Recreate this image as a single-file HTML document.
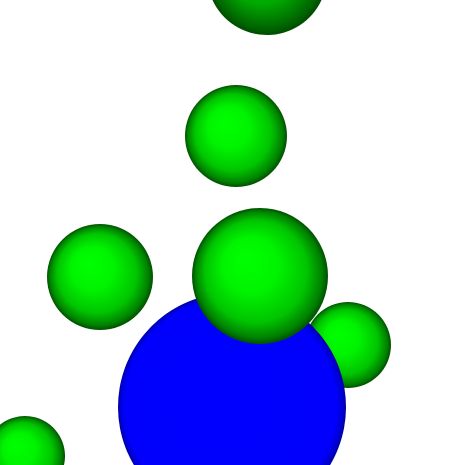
<!DOCTYPE html>
<html>
<head>
<meta charset="utf-8">
<style>
html,body{margin:0;padding:0;background:#fff;width:465px;height:465px;overflow:hidden;}
svg{display:block;}
</style>
</head>
<body>
<svg width="465" height="465" viewBox="0 0 465 465" overflow="hidden">
  <defs>
    <radialGradient id="g" cx="0.5" cy="0.5" r="0.5" fx="0.38" fy="0.36">
      <stop offset="0" stop-color="#00ff00"/>
      <stop offset="0.4" stop-color="#00f400"/>
      <stop offset="0.75" stop-color="#00c400"/>
      <stop offset="0.93" stop-color="#008000"/>
      <stop offset="1" stop-color="#005000"/>
    </radialGradient>
    <radialGradient id="gbl" gradientUnits="userSpaceOnUse" cx="25" cy="456" r="40" fx="15.4" fy="444.8">
      <stop offset="0" stop-color="#00ff00"/>
      <stop offset="0.4" stop-color="#00f400"/>
      <stop offset="0.75" stop-color="#00c400"/>
      <stop offset="0.93" stop-color="#008000"/>
      <stop offset="1" stop-color="#005000"/>
    </radialGradient>
    <radialGradient id="gtop" gradientUnits="userSpaceOnUse" cx="267" cy="-25" r="60" fx="255" fy="-41.8">
      <stop offset="0" stop-color="#00e000"/>
      <stop offset="0.6" stop-color="#00a800"/>
      <stop offset="0.9" stop-color="#006800"/>
      <stop offset="1" stop-color="#004c00"/>
    </radialGradient>
    <radialGradient id="b" gradientUnits="userSpaceOnUse" cx="232" cy="407" r="114" fx="209.2" fy="384.2">
      <stop offset="0" stop-color="#0000ff"/>
      <stop offset="0.93" stop-color="#0000fc"/>
      <stop offset="0.98" stop-color="#0000cc"/>
      <stop offset="1" stop-color="#0000a0"/>
    </radialGradient>
  </defs>
  <path d="M 212.46 0 A 60 60 0 0 0 321.54 0 Z" fill="url(#gtop)"/>
  <circle cx="236" cy="136" r="51" fill="url(#g)"/>
  <circle cx="100" cy="277" r="53" fill="url(#g)"/>
  <circle cx="348" cy="345" r="43" fill="url(#g)"/>
  <path d="M 0 465 L 0 424.77 A 40 40 0 0 1 63.97 465 Z" fill="url(#gbl)"/>
  <path d="M 133.86 465 A 114 114 0 1 1 330.14 465 Z" fill="url(#b)"/>
  <circle cx="260" cy="276" r="68" fill="url(#g)"/>
</svg>
</body>
</html>
